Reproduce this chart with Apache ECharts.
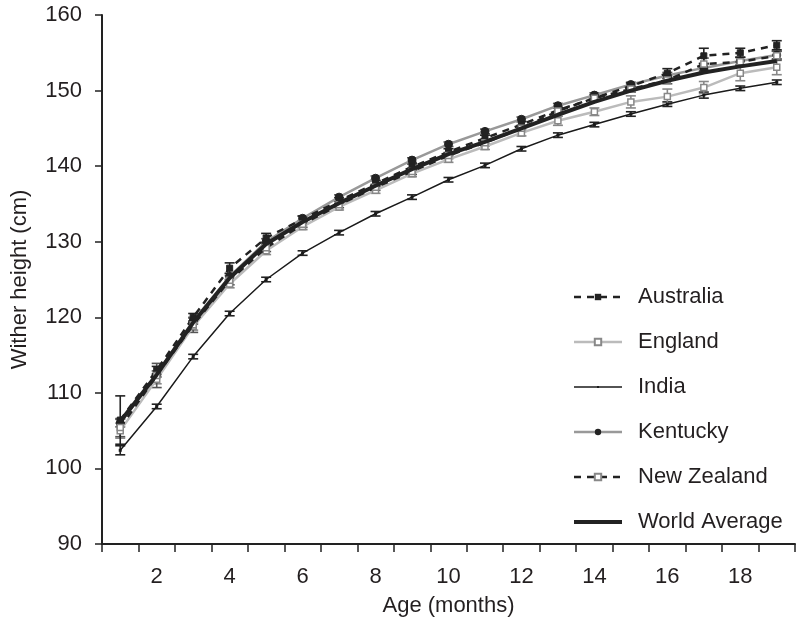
<!DOCTYPE html>
<html>
<head>
<meta charset="utf-8">
<script src="https://cdn.jsdelivr.net/npm/echarts@6/dist/echarts.min.js"></script>
<style>
html,body{margin:0;padding:0;background:#fff;}
#chart{width:796px;height:627px;}
</style>
</head>
<body>
<div id="chart"></div>
<script>
const months = ['1','2','3','4','5','6','7','8','9','10','11','12','13','14','15','16','17','18','19'];
const yTicks = [90, 100, 110, 120, 130, 140, 150, 160];

const australia  = [106.4, 113.0, 120.0, 126.5, 130.5, 133.0, 135.4, 137.7, 139.9, 141.9, 143.7, 145.5, 147.4, 149.0, 150.6, 152.3, 154.6, 155.0, 156.0];
const england    = [105.0, 111.8, 118.8, 124.4, 128.8, 132.0, 134.6, 136.8, 139.0, 140.9, 142.6, 144.4, 146.0, 147.2, 148.5, 149.2, 150.4, 152.3, 153.1];
const india      = [102.4, 108.2, 114.8, 120.5, 125.0, 128.5, 131.2, 133.7, 135.9, 138.2, 140.1, 142.3, 144.1, 145.5, 146.9, 148.2, 149.4, 150.3, 151.1];
const kentucky   = [106.0, 112.5, 119.5, 125.4, 130.0, 133.1, 135.9, 138.4, 140.8, 142.9, 144.6, 146.2, 148.0, 149.4, 150.8, 152.0, 153.0, 153.9, 154.7];
const newZealand = [105.4, 112.3, 119.0, 124.9, 129.2, 132.3, 134.9, 137.2, 139.3, 141.4, 143.1, 145.0, 147.3, 149.0, 150.2, 151.4, 153.5, 153.8, 154.6];
const worldAvg   = [106.2, 112.4, 119.3, 125.2, 129.7, 132.6, 135.1, 137.4, 139.6, 141.6, 143.2, 145.0, 146.8, 148.5, 150.0, 151.3, 152.4, 153.2, 153.9];

// error bar half-widths (cm)
const australiaErr  = [3.2, 0.5, 0.5, 0.7, 0.6, 0.4, 0.4, 0.4, 0.4, 0.4, 0.4, 0.4, 0.4, 0.4, 0.4, 0.6, 1.0, 0.6, 0.6];
const englandErr    = [1.0, 0.6, 0.5, 0.5, 0.5, 0.4, 0.4, 0.4, 0.4, 0.4, 0.4, 0.4, 0.6, 0.5, 0.8, 1.0, 0.8, 1.0, 1.0];
const indiaErr      = [0.6, 0.3, 0.3, 0.3, 0.3, 0.3, 0.3, 0.3, 0.3, 0.3, 0.3, 0.3, 0.3, 0.3, 0.3, 0.3, 0.4, 0.3, 0.3];
const kentuckyErr   = [0.5, 0.4, 0.4, 0.4, 0.4, 0.3, 0.3, 0.3, 0.3, 0.3, 0.3, 0.3, 0.3, 0.3, 0.3, 0.4, 0.5, 0.5, 0.5];
const newZealandErr = [1.2, 1.6, 1.0, 0.6, 0.5, 0.4, 0.4, 0.4, 0.4, 0.4, 0.4, 0.4, 0.4, 0.4, 0.4, 0.5, 0.8, 0.6, 0.6];

const FONT = 'Liberation Sans, Arial, sans-serif';
const TEXT = '#231f20';
// tiny centred dot inside a larger (invisible) box, so it stays small in the legend too
const TINY_DOT = 'path://M0,0M10,10M3.5,3.5L6.5,3.5L6.5,6.5L3.5,6.5Z';

const chart = echarts.init(document.getElementById('chart'), null, {renderer: 'canvas'});

function errData(vals, errs) {
  return vals.map((v, i) => [i, v - errs[i], v + errs[i]]);
}
function errSeries(vals, errs, color, z) {
  return {
    type: 'custom',
    silent: true,
    z: z,
    encode: {x: 0, y: [1, 2]},
    data: errData(vals, errs),
    renderItem: function (params, api) {
      const lo = api.coord([api.value(0), api.value(1)]);
      const hi = api.coord([api.value(0), api.value(2)]);
      const w = 5;
      const st = {stroke: color, lineWidth: 1.6};
      return {
        type: 'group',
        children: [
          {type: 'line', shape: {x1: lo[0], y1: lo[1], x2: hi[0], y2: hi[1]}, style: st},
          {type: 'line', shape: {x1: lo[0] - w, y1: lo[1], x2: lo[0] + w, y2: lo[1]}, style: st},
          {type: 'line', shape: {x1: hi[0] - w, y1: hi[1], x2: hi[0] + w, y2: hi[1]}, style: st}
        ]
      };
    }
  };
}

const option = {
  animation: false,
  backgroundColor: '#fff',
  grid: {left: 102, right: 1, top: 15, bottom: 83, containLabel: false},
  legend: {
    orient: 'vertical',
    left: 567,
    top: 281,
    itemWidth: 48,
    itemHeight: 8,
    itemGap: 23,
    lineStyle: {width: 'inherit'},
    textStyle: {fontFamily: FONT, fontSize: 22, lineHeight: 22, color: TEXT, padding: [0, 0, 0, 11]},
    data: [
      'Australia', 'England', 'India', 'Kentucky', 'New Zealand',
      {name: 'World Average', itemStyle: {opacity: 0}}
    ]
  },
  xAxis: {
    type: 'category',
    data: months,
    boundaryGap: true,
    name: 'Age (months)',
    nameLocation: 'middle',
    nameGap: 51,
    nameTextStyle: {fontFamily: FONT, fontSize: 22, color: TEXT},
    axisLine: {lineStyle: {color: '#222', width: 2}},
    axisTick: {show: true, interval: 0, length: 8, lineStyle: {color: '#222', width: 1.5}},
    axisLabel: {
      interval: function (index) { return index % 2 === 1; },
      margin: 22,
      fontFamily: FONT,
      fontSize: 22,
      color: TEXT
    },
    splitLine: {show: false}
  },
  yAxis: {
    type: 'value',
    min: yTicks[0],
    max: yTicks[yTicks.length - 1],
    interval: 10,
    name: 'Wither height (cm)',
    nameLocation: 'middle',
    nameGap: 71,
    nameRotate: 90,
    nameTextStyle: {fontFamily: FONT, fontSize: 22, color: TEXT},
    axisLine: {show: true, lineStyle: {color: '#222', width: 2}},
    axisTick: {show: true, length: 7, lineStyle: {color: '#222', width: 1.5}},
    axisLabel: {margin: 20, fontFamily: FONT, fontSize: 22, color: TEXT},
    splitLine: {show: false}
  },
  series: [
    errSeries(india, indiaErr, '#222', 2),
    errSeries(england, englandErr, '#888', 2),
    errSeries(kentucky, kentuckyErr, '#555', 2),
    errSeries(newZealand, newZealandErr, '#555', 2),
    errSeries(australia, australiaErr, '#222', 2),
    {
      name: 'Australia', type: 'line', data: australia, z: 4,
      symbol: 'rect', symbolSize: 6,
      lineStyle: {color: '#222', width: 2.5, type: [7, 6]},
      itemStyle: {color: '#222', borderColor: '#222'}
    },
    {
      name: 'England', type: 'line', data: england, z: 3,
      symbol: 'rect', symbolSize: 6,
      lineStyle: {color: '#bbb', width: 2.5},
      itemStyle: {color: '#fff', borderColor: '#888', borderWidth: 1.5}
    },
    {
      name: 'India', type: 'line', data: india, z: 3,
      symbol: TINY_DOT, symbolSize: 10,
      lineStyle: {color: '#1a1a1a', width: 1.5},
      itemStyle: {color: '#1a1a1a'}
    },
    {
      name: 'Kentucky', type: 'line', data: kentucky, z: 3,
      symbol: 'circle', symbolSize: 8,
      lineStyle: {color: '#999', width: 2.5},
      itemStyle: {color: '#222', borderColor: '#222'}
    },
    {
      name: 'New Zealand', type: 'line', data: newZealand, z: 4,
      symbol: 'rect', symbolSize: 6,
      lineStyle: {color: '#222', width: 2.5, type: [7, 6]},
      itemStyle: {color: '#fff', borderColor: '#888', borderWidth: 1.5}
    },
    {
      name: 'World Average', type: 'line', data: worldAvg, z: 5,
      symbol: 'none', showSymbol: false,
      lineStyle: {color: '#222', width: 4},
      itemStyle: {color: '#222'}
    }
  ]
};
chart.setOption(option);
</script>
</body>
</html>
